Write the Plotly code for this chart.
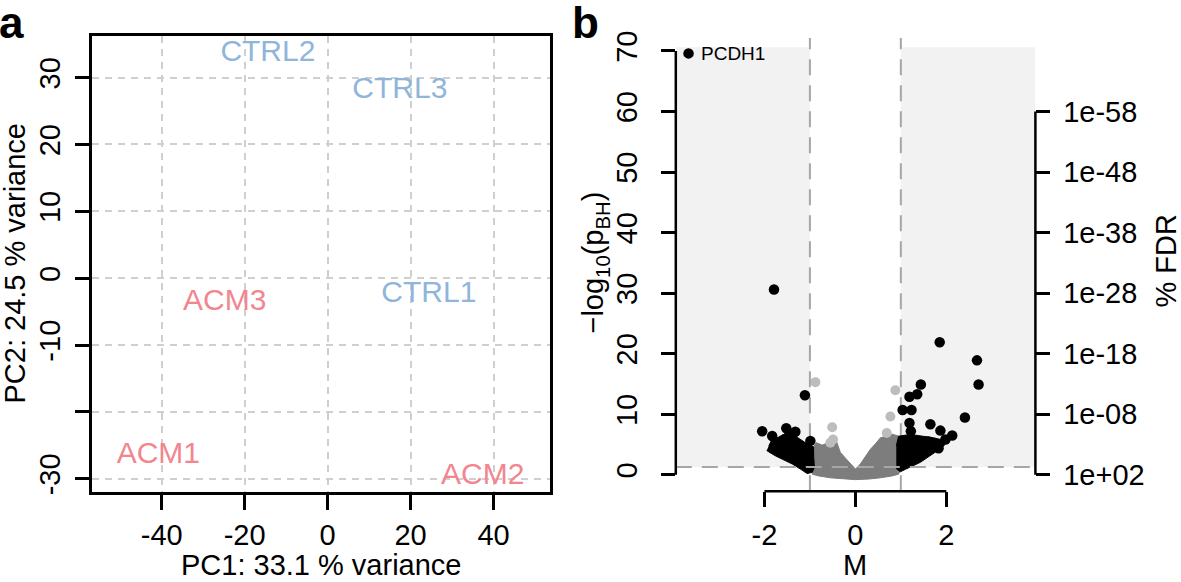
import plotly.graph_objects as go

W, H = 1181, 582
FONT = "Liberation Sans, Arial, Helvetica, sans-serif"

# ---------------- Panel a: PCA ----------------
pca_samples = ["CTRL1", "CTRL2", "CTRL3", "ACM1", "ACM2", "ACM3"]
pca_group = ["CTRL", "CTRL", "CTRL", "ACM", "ACM", "ACM"]
pca_pc1 = [24.4, -14.4, 17.4, -40.8, 37.4, -24.8]
pca_pc2 = [-2.5, 33.6, 28.1, -26.5, -29.6, -3.65]
group_colors = {"CTRL": "#8fb5da", "ACM": "#f2868f"}
pca_xticks = [-40, -20, 0, 20, 40]
pca_xticktext = ["-40", "-20", "0", "20", "40"]
pca_yticks = [-30, -20, -10, 0, 10, 20, 30]
pca_yticktext = ["-30", "", "-10", "0", "10", "20", "30"]

# ---------------- Panel b: volcano ----------------
# significant genes (black)
sig_M = [-3.67, -1.79, -1.11, -2.05, -1.83, -1.52, -1.32, -0.99, -1.80, -1.56, -1.45,
         1.855, 2.675, 2.71, 2.41, 1.44, 1.36, 1.19, 1.04, 1.235, 1.19, 1.65, 1.22,
         1.87, 2.13, 1.98, 1.83, 1.60]
sig_logp = [69.6, 30.6, 13.15, 7.2, 6.4, 7.7, 7.1, 5.6, 4.3, 5.85, 6.9,
            21.9, 18.9, 14.9, 9.47, 14.9, 13.3, 12.9, 10.7, 10.7, 8.55, 8.35, 7.2,
            7.3, 6.5, 5.84, 4.38, 5.5]
sig_label = ["PCDH1"] + [""] * (len(sig_M) - 1)

# p significant but small fold change (light gray)
mid_M = [-0.88, 0.88, 0.77, -0.51, 0.69, -0.49, -0.55]
mid_logp = [15.3, 13.96, 9.63, 7.85, 6.9, 5.84, 5.3]

# dense cloud of non-significant genes (dark gray) – outline
cloud_M = [-1.0, -0.95, -0.86, -0.73, -0.6, -0.5, -0.42, -0.33, -0.2, -0.11, -0.04, 0.0,
           0.04, 0.11, 0.22, 0.33, 0.45, 0.55, 0.68, 0.81, 0.95, 1.0, 0.95, 0.8, 0.55,
           0.3, 0.0, -0.3, -0.55, -0.8, -0.95]
cloud_logp = [3.5, 4.3, 5.3, 4.9, 5.3, 5.8, 5.6, 3.7, 2.6, 1.8, 1.2, 0.97,
              1.2, 1.8, 3.0, 4.2, 5.2, 6.1, 6.4, 6.7, 6.4, 1.0, 0.1, -0.2, -0.5,
              -0.7, -0.8, -0.7, -0.5, -0.2, 0.1]

# dense clusters of significant genes (black) – outlines
left_mass_M = [-1.905, -1.85, -1.576, -1.3, -1.10, -0.92, -0.916, -0.90, -0.95, -1.06,
               -1.2, -1.39, -1.76, -1.95]
left_mass_logp = [4.76, 5.6, 6.66, 6.3, 5.3, 4.6, 2.87, 1.2, 0.4, 0.2,
                  0.9, 1.79, 3.13, 4.0]
right_mass_M = [0.90, 0.95, 1.21, 1.5, 1.72, 2.01, 1.95, 1.80, 1.43, 1.1, 0.99, 0.90]
right_mass_logp = [4.76, 6.38, 6.66, 6.4, 6.12, 5.57, 4.8, 3.95, 2.06, 0.9, 0.5, 1.0]

M_cut = [-1, 1]
p_cut_log = 1.30          # -log10(0.05)
shade_top = 70.6
vol_xticks = [-2, 0, 2]
vol_xticktext = ["-2", "0", "2"]
vol_yticks = [0, 10, 20, 30, 40, 50, 60, 70]
fdr_ticks = [0, 10, 20, 30, 40, 50, 60]
fdr_text = ["1e+02", "1e-08", "1e-18", "1e-28", "1e-38", "1e-48", "1e-58"]

xa_range = [-56.8, 53.6]
ya_range = [-31.96, 36.3]
xb_range = [-3.95, 3.96]
yb_range = [-2.7, 72.2]

# pixel layout helpers
def fx(px):
    return px / W

def fy(py):
    return 1 - py / H

a_dom_x = [fx(92), fx(550)]
a_dom_y = [fy(493.3), fy(29)]
b_dom_x = [fx(675.8), fx(1035.4)]
b_dom_y = [fy(492.6), fy(31.2)]

fig = go.Figure()

# ---- panel a traces
for g in ["CTRL", "ACM"]:
    idx = [i for i, gg in enumerate(pca_group) if gg == g]
    fig.add_trace(go.Scatter(
        x=[pca_pc1[i] for i in idx], y=[pca_pc2[i] for i in idx],
        text=[pca_samples[i] for i in idx], mode="text",
        textposition="middle center",
        textfont=dict(family=FONT, size=30, color=group_colors[g]),
        xaxis="x", yaxis="y", showlegend=False, hoverinfo="skip"))

# ---- panel b traces
fig.add_trace(go.Scatter(x=cloud_M, y=cloud_logp, mode="lines", fill="toself",
                         fillcolor="#7d7d7d", line=dict(color="#7d7d7d", width=1),
                         xaxis="x2", yaxis="y2", showlegend=False, hoverinfo="skip"))
fig.add_trace(go.Scatter(x=mid_M, y=mid_logp, mode="markers",
                         marker=dict(color="#bdbdbd", size=10),
                         xaxis="x2", yaxis="y2", showlegend=False, hoverinfo="skip"))
# threshold dashed lines
for mc in M_cut:
    fig.add_trace(go.Scatter(x=[mc, mc], y=yb_range, mode="lines",
                             line=dict(color="#a6a6a6", width=2, dash="16px,10px"),
                             xaxis="x2", yaxis="y2", showlegend=False, hoverinfo="skip"))
fig.add_trace(go.Scatter(x=xb_range, y=[p_cut_log, p_cut_log], mode="lines",
                         line=dict(color="#a6a6a6", width=2, dash="16px,10px"),
                         xaxis="x2", yaxis="y3", showlegend=False, hoverinfo="skip"))
for mx, my in [(left_mass_M, left_mass_logp), (right_mass_M, right_mass_logp)]:
    fig.add_trace(go.Scatter(x=mx, y=my, mode="lines", fill="toself",
                             fillcolor="#000000", line=dict(color="#000000", width=1),
                             xaxis="x2", yaxis="y2", showlegend=False, hoverinfo="skip"))
fig.add_trace(go.Scatter(x=sig_M, y=sig_logp, mode="markers",
                         marker=dict(color="#000000", size=10.5),
                         xaxis="x2", yaxis="y2", showlegend=False, hoverinfo="skip"))

shapes = []
# shaded regions
shapes.append(dict(type="rect", xref="x2", yref="y2", x0=xb_range[0], x1=M_cut[0],
                   y0=p_cut_log, y1=shade_top, fillcolor="#f2f2f2", line_width=0, layer="below"))
shapes.append(dict(type="rect", xref="x2", yref="y2", x0=M_cut[1], x1=xb_range[1],
                   y0=p_cut_log, y1=shade_top, fillcolor="#f2f2f2", line_width=0, layer="below"))
# R-style axis lines spanning first to last tick
LW = 2.5
shapes.append(dict(type="line", xref="x2", yref="paper", x0=vol_xticks[0], x1=vol_xticks[-1],
                   y0=b_dom_y[0], y1=b_dom_y[0], line=dict(color="black", width=LW)))
shapes.append(dict(type="line", xref="paper", yref="y2", x0=b_dom_x[0], x1=b_dom_x[0],
                   y0=vol_yticks[0], y1=vol_yticks[-1], line=dict(color="black", width=LW)))
shapes.append(dict(type="line", xref="paper", yref="y2", x0=b_dom_x[1], x1=b_dom_x[1],
                   y0=fdr_ticks[0], y1=fdr_ticks[-1], line=dict(color="black", width=LW)))

tick_font = dict(family=FONT, size=29, color="black")
title_font = dict(family=FONT, size=29, color="black")

annotations = [
    dict(text="<b>a</b>", x=fx(12), y=fy(16), xref="paper", yref="paper", showarrow=False,
         font=dict(family=FONT, size=44, color="black"), xanchor="center", yanchor="middle"),
    dict(text="<b>b</b>", x=fx(585), y=fy(16), xref="paper", yref="paper", showarrow=False,
         font=dict(family=FONT, size=44, color="black"), xanchor="center", yanchor="middle"),
    dict(text="PC1: 33.1 % variance", x=fx(321), y=fy(568), xref="paper", yref="paper",
         showarrow=False, font=title_font, xanchor="center", yanchor="middle"),
    dict(text="PC2: 24.5 % variance", x=fx(15), y=fy(261), xref="paper", yref="paper",
         showarrow=False, font=title_font, textangle=-90, xanchor="center", yanchor="middle"),
    dict(text="M", x=fx(855), y=fy(568), xref="paper", yref="paper",
         showarrow=False, font=title_font, xanchor="center", yanchor="middle"),
    dict(text="\u2212log<sub>10</sub>(p<sub>BH</sub>)", x=fx(595), y=fy(260), xref="paper",
         yref="paper", showarrow=False, font=title_font, textangle=-90,
         xanchor="center", yanchor="middle"),
    dict(text="% FDR", x=fx(1166), y=fy(259), xref="paper", yref="paper",
         showarrow=False, font=title_font, textangle=-90, xanchor="center", yanchor="middle"),
    dict(text=sig_label[0], x=sig_M[0], y=sig_logp[0], xref="x2", yref="y2", showarrow=False,
         xanchor="left", yanchor="middle", xshift=10,
         font=dict(family=FONT, size=19, color="black")),
]

fig.update_layout(
    width=W, height=H, margin=dict(l=0, r=0, t=0, b=0),
    paper_bgcolor="white", plot_bgcolor="rgba(0,0,0,0)",
    showlegend=False, shapes=shapes, annotations=annotations,
    xaxis=dict(domain=a_dom_x, range=xa_range, tickvals=pca_xticks, ticktext=pca_xticktext,
               anchor="y", showline=True, mirror=True, linecolor="black", linewidth=LW,
               ticks="outside", ticklen=15, tickwidth=LW, tickcolor="black",
               showgrid=True, gridcolor="#cfcfcf", gridwidth=2, griddash="7px,6px",
               zeroline=False, tickfont=tick_font, ticklabelstandoff=1),
    yaxis=dict(domain=a_dom_y, range=ya_range, tickvals=pca_yticks, ticktext=pca_yticktext,
               anchor="x", showline=True, mirror=True, linecolor="black", linewidth=LW,
               ticks="outside", ticklen=14, tickwidth=LW, tickcolor="black",
               showgrid=True, gridcolor="#cfcfcf", gridwidth=2, griddash="7px,6px",
               zeroline=False, tickfont=tick_font, tickangle=-90, ticklabelstandoff=4),
    xaxis2=dict(domain=b_dom_x, range=xb_range, tickvals=vol_xticks, ticktext=vol_xticktext,
                anchor="y2", showline=False, showgrid=False, zeroline=False,
                ticks="outside", ticklen=15, tickwidth=LW, tickcolor="black",
                tickfont=tick_font, ticklabelstandoff=3),
    yaxis2=dict(domain=b_dom_y, range=yb_range, tickvals=vol_yticks, anchor="x2",
                showline=False, showgrid=False, zeroline=False,
                ticks="outside", ticklen=14, tickwidth=LW, tickcolor="black",
                tickfont=tick_font, tickangle=-90, ticklabelstandoff=12),
    yaxis3=dict(range=yb_range, tickvals=fdr_ticks, ticktext=fdr_text, anchor="x2",
                overlaying="y2", side="right",
                showline=False, showgrid=False, zeroline=False,
                ticks="outside", ticklen=14, tickwidth=LW, tickcolor="black",
                tickfont=tick_font, ticklabelstandoff=7),
)

fig.write_html("out.html", config={"displayModeBar": False},
               post_script="document.body.style.margin='0px';document.body.style.overflow='hidden';")
